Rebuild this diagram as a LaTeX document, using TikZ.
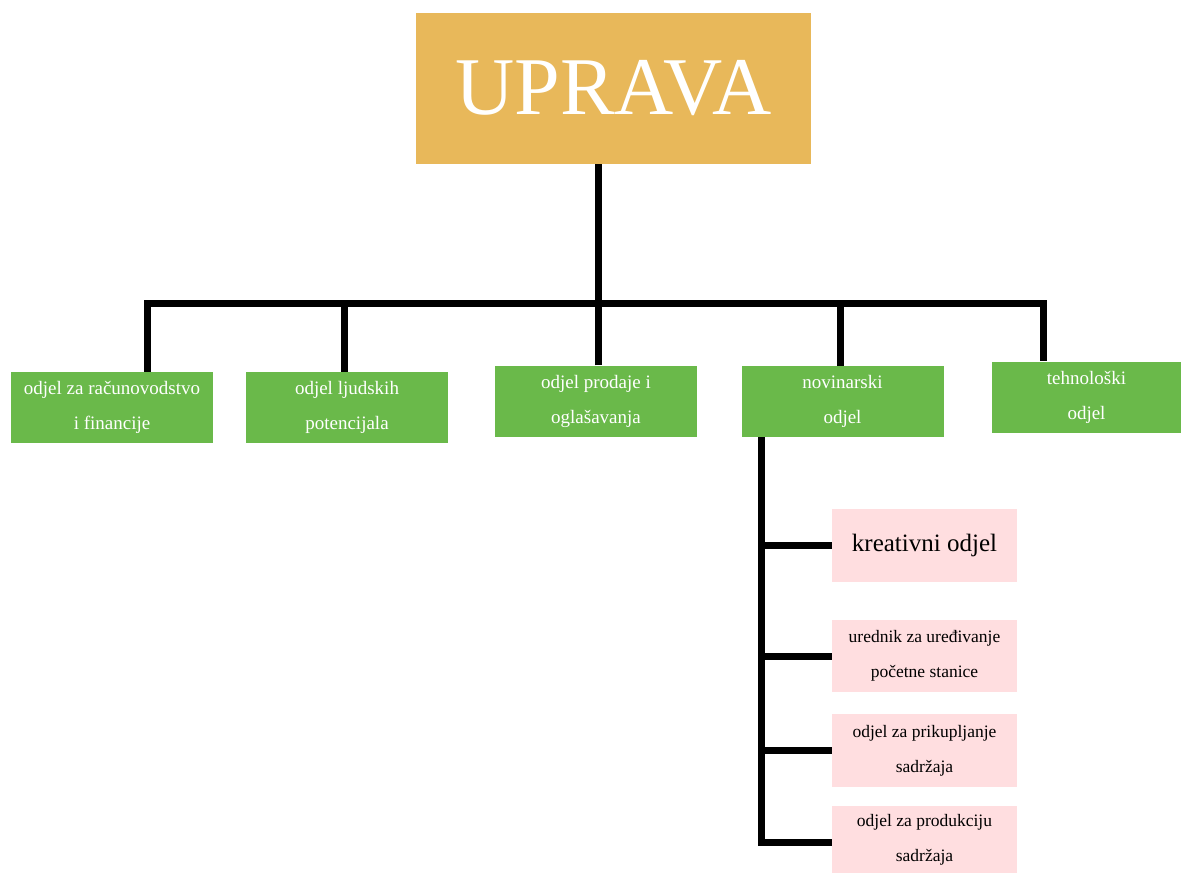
\documentclass[tikz,border=0pt]{standalone}
\usepackage{fontspec}
\setmainfont{Liberation Serif}
\definecolor{upravazlato}{HTML}{E8B85A}
\definecolor{odjelzeleno}{HTML}{6AB94A}
\definecolor{podruzo}{HTML}{FFDEE0}
\tikzset{
    upravabox/.style={fill=upravazlato, text=white, minimum width=395pt, minimum height=151pt, inner sep=0pt, font=\fontsize{82}{90}\selectfont},
    odjelbox/.style={fill=odjelzeleno, text=white, minimum width=202pt, minimum height=71pt, inner sep=0pt, align=center, font=\fontsize{19}{35}\selectfont},
    podbox/.style={fill=podruzo, text=black, minimum width=185pt, minimum height=72pt, inner sep=0pt, align=center, font=\fontsize{17.5}{35}\selectfont},
    veza/.style={line width=7pt}
}
\begin{document}
\begin{tikzpicture}[x=1pt,y=-1pt]
    \useasboundingbox (0,0) rectangle (1181,873);

    \node[upravabox] (uprava) at (613.5,88.5) {UPRAVA};

    \node[odjelbox] (racun) at (112,407.5) {odjel za računovodstvo\\i financije};
    \node[odjelbox] (ljudi) at (347,407.5) {odjel ljudskih\\potencijala};
    \node[odjelbox] (prodaja) at (596,401) {odjel prodaje i\\oglašavanja};
    \node[odjelbox] (novinar) at (842.5,401.5) {novinarski\\odjel};
    \node[odjelbox, minimum width=189pt] (tehno) at (1086.5,397) {tehnološki\\odjel};

    \node[podbox, minimum height=73pt] (kreativ) at (924.5,545.5) {\fontsize{25}{30}\selectfont kreativni odjel};
    \node[podbox] (urednik) at (924.5,656) {urednik za uređivanje\\početne stanice};
    \node[podbox, minimum height=73pt] (prikup) at (924.5,750.5) {odjel za prikupljanje\\sadržaja};
    \node[podbox, minimum height=67pt] (produk) at (924.5,839.5) {odjel za produkciju\\sadržaja};

    \coordinate (grana) at (598,303);
    \coordinate (podgrana) at (761,842);

    % uprava -> odjeli
    \draw[veza] (uprava.south -| grana) -- (grana);
    \draw[veza] (racun.north -| 147,0) -- (147,303) -- (1043,303) -- (tehno.north -| 1043,0);
    \draw[veza] (ljudi.north -| 344,0) -- (344,303);
    \draw[veza] (prodaja.north -| grana) -- (grana);
    \draw[veza] (novinar.north -| 840,0) -- (840,303);

    % novinarski odjel -> pododjeli
    \draw[veza] (novinar.south -| podgrana) -- (podgrana) -- (podgrana -| produk.west);
    \draw[veza] (kreativ.west -| podgrana) -- (kreativ.west);
    \draw[veza] (urednik.west -| podgrana) -- (urednik.west);
    \draw[veza] (prikup.west -| podgrana) -- (prikup.west);
\end{tikzpicture}
\end{document}
